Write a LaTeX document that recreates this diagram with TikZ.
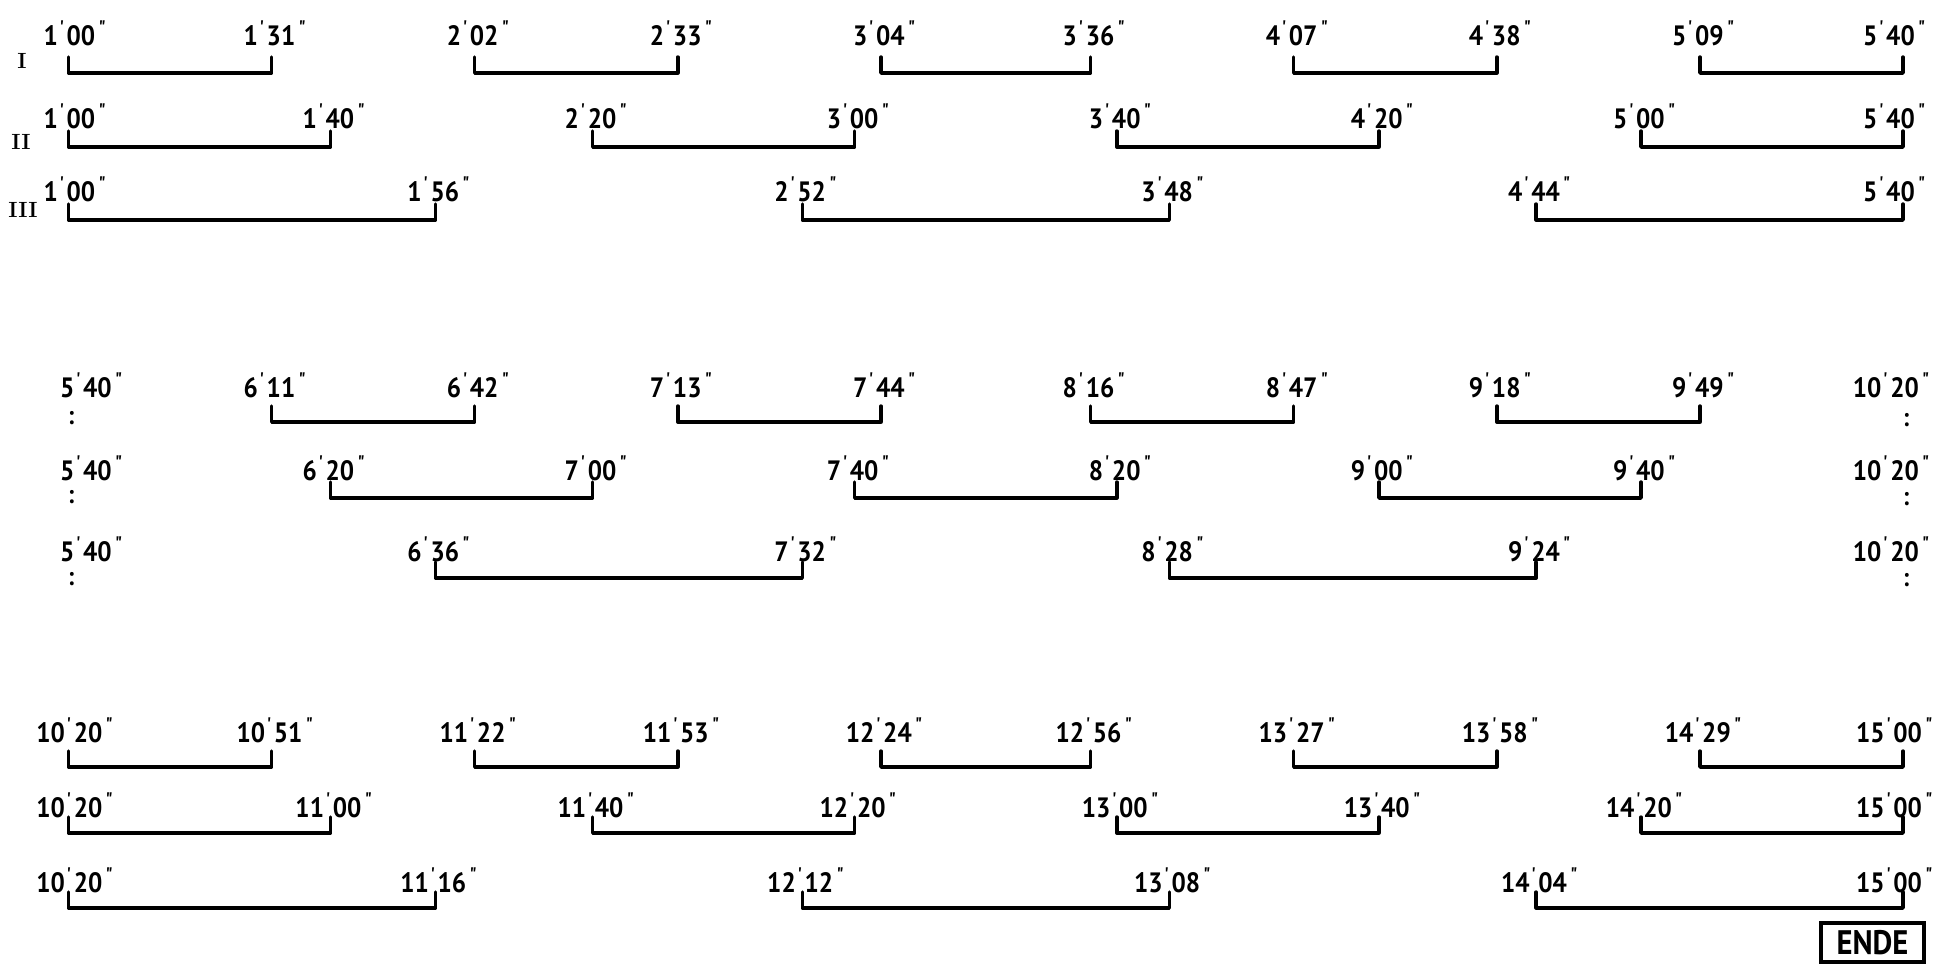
\documentclass[tikz,border=0pt]{standalone}
\usepackage{fontspec}
\usetikzlibrary{calc}
\newfontfamily\hand{PT Sans}[FakeStretch=0.9]
\newcommand\tmk[2]{#1\kern0.06em\textsuperscript{\textquotesingle}\kern0.04em#2\kern0.12em\textsuperscript{\textquotedbl}}
% #1 name, #2 bracket y, #3 label baseline y, #4 start (s), #5 end (s), #6 start label, #7 end label
\newcommand\tbrk[7]{%
  \coordinate (#1a) at ({68.5+6.552*#4},#2);
  \coordinate (#1b) at ({68.5+6.552*#5},#2);
  \draw[br] ($(#1a)+(0,-16)$) -- (#1a) -- (#1b) -- ($(#1b)+(0,-16)$);
  \node[lab] (#1s) at ({68.5+6.552*#4+ifthenelse(#4==0,7,4)},#3) {#6};
  \node[lab] (#1e) at ({68.5+6.552*#5+ifthenelse(#5==280,-8,4)},#3) {#7};
}
\tikzset{
  br/.style={line width=1.7pt, line cap=round, line join=round},
  lab/.style={font=\hand\bfseries\fontsize{14}{14}\selectfont, inner sep=0pt, anchor=base},
  colon/.style={font=\hand\bfseries\fontsize{13}{13}\selectfont, inner sep=0pt},
  rom/.style={font=\bfseries\fontsize{11}{11}\selectfont, inner sep=0pt}
}
\begin{document}
\begin{tikzpicture}[x=0.5pt,y=-0.5pt]
\useasboundingbox (0,0) rectangle (1953,965);
\fill[white] (0,0) rectangle (1953,965);
% roman numerals
\node[rom] (rI) at (22,61) {I};
\node[rom] (rII) at (21,142) {II};
\node[rom] (rIII) at (23,210) {III};
% ---------------- system 1 ----------------
\tbrk{ai1}{73}{45}{0}{31}{\tmk{1}{00}}{\tmk{1}{31}}
\tbrk{ai2}{73}{45}{62}{93}{\tmk{2}{02}}{\tmk{2}{33}}
\tbrk{ai3}{73}{45}{124}{156}{\tmk{3}{04}}{\tmk{3}{36}}
\tbrk{ai4}{73}{45}{187}{218}{\tmk{4}{07}}{\tmk{4}{38}}
\tbrk{ai5}{73}{45}{249}{280}{\tmk{5}{09}}{\tmk{5}{40}}
\tbrk{aii1}{147}{128}{0}{40}{\tmk{1}{00}}{\tmk{1}{40}}
\tbrk{aii2}{147}{128}{80}{120}{\tmk{2}{20}}{\tmk{3}{00}}
\tbrk{aii3}{147}{128}{160}{200}{\tmk{3}{40}}{\tmk{4}{20}}
\tbrk{aii4}{147}{128}{240}{280}{\tmk{5}{00}}{\tmk{5}{40}}
\tbrk{aiii1}{220}{201}{0}{56}{\tmk{1}{00}}{\tmk{1}{56}}
\tbrk{aiii2}{220}{201}{112}{168}{\tmk{2}{52}}{\tmk{3}{48}}
\tbrk{aiii3}{220}{201}{224}{280}{\tmk{4}{44}}{\tmk{5}{40}}
% ---------------- system 2 ----------------
\tbrk{bi1}{422}{397}{31}{62}{\tmk{6}{11}}{\tmk{6}{42}}
\tbrk{bi2}{422}{397}{93}{124}{\tmk{7}{13}}{\tmk{7}{44}}
\tbrk{bi3}{422}{397}{156}{187}{\tmk{8}{16}}{\tmk{8}{47}}
\tbrk{bi4}{422}{397}{218}{249}{\tmk{9}{18}}{\tmk{9}{49}}
\tbrk{bii1}{498}{480}{40}{80}{\tmk{6}{20}}{\tmk{7}{00}}
\tbrk{bii2}{498}{480}{120}{160}{\tmk{7}{40}}{\tmk{8}{20}}
\tbrk{bii3}{498}{480}{200}{240}{\tmk{9}{00}}{\tmk{9}{40}}
\tbrk{biii1}{578}{561}{56}{112}{\tmk{6}{36}}{\tmk{7}{32}}
\tbrk{biii2}{578}{561}{168}{224}{\tmk{8}{28}}{\tmk{9}{24}}
\node[lab] (bil) at (92,397) {\tmk{5}{40}};
\node[lab] (biil) at (92,480) {\tmk{5}{40}};
\node[lab] (biiil) at (92,561) {\tmk{5}{40}};
\node[colon] (bic) at (71,418) {:};
\node[colon] (biic) at (71,497) {:};
\node[colon] (biiic) at (71,579) {:};
\node[lab] (bir) at (1892,397) {\tmk{10}{20}};
\node[lab] (biir) at (1892,480) {\tmk{10}{20}};
\node[lab] (biiir) at (1892,561) {\tmk{10}{20}};
\node[colon] (birc) at (1906,420) {:};
\node[colon] (biirc) at (1906,499) {:};
\node[colon] (biiirc) at (1906,580) {:};
% ---------------- system 3 ----------------
\tbrk{ci1}{767}{742}{0}{31}{\tmk{10}{20}}{\tmk{10}{51}}
\tbrk{ci2}{767}{742}{62}{93}{\tmk{11}{22}}{\tmk{11}{53}}
\tbrk{ci3}{767}{742}{124}{156}{\tmk{12}{24}}{\tmk{12}{56}}
\tbrk{ci4}{767}{742}{187}{218}{\tmk{13}{27}}{\tmk{13}{58}}
\tbrk{ci5}{767}{742}{249}{280}{\tmk{14}{29}}{\tmk{15}{00}}
\tbrk{cii1}{833}{817}{0}{40}{\tmk{10}{20}}{\tmk{11}{00}}
\tbrk{cii2}{833}{817}{80}{120}{\tmk{11}{40}}{\tmk{12}{20}}
\tbrk{cii3}{833}{817}{160}{200}{\tmk{13}{00}}{\tmk{13}{40}}
\tbrk{cii4}{833}{817}{240}{280}{\tmk{14}{20}}{\tmk{15}{00}}
\tbrk{ciii1}{908}{892}{0}{56}{\tmk{10}{20}}{\tmk{11}{16}}
\tbrk{ciii2}{908}{892}{112}{168}{\tmk{12}{12}}{\tmk{13}{08}}
\tbrk{ciii3}{908}{892}{224}{280}{\tmk{14}{04}}{\tmk{15}{00}}
% end box
\node[draw, line width=1.6pt, inner sep=0pt, minimum width=51.5pt, minimum height=19.5pt,
      font=\hand\bfseries\fontsize{17}{17}\selectfont] (ende) at (1872.5,942.5) {ENDE};
\end{tikzpicture}
\end{document}
